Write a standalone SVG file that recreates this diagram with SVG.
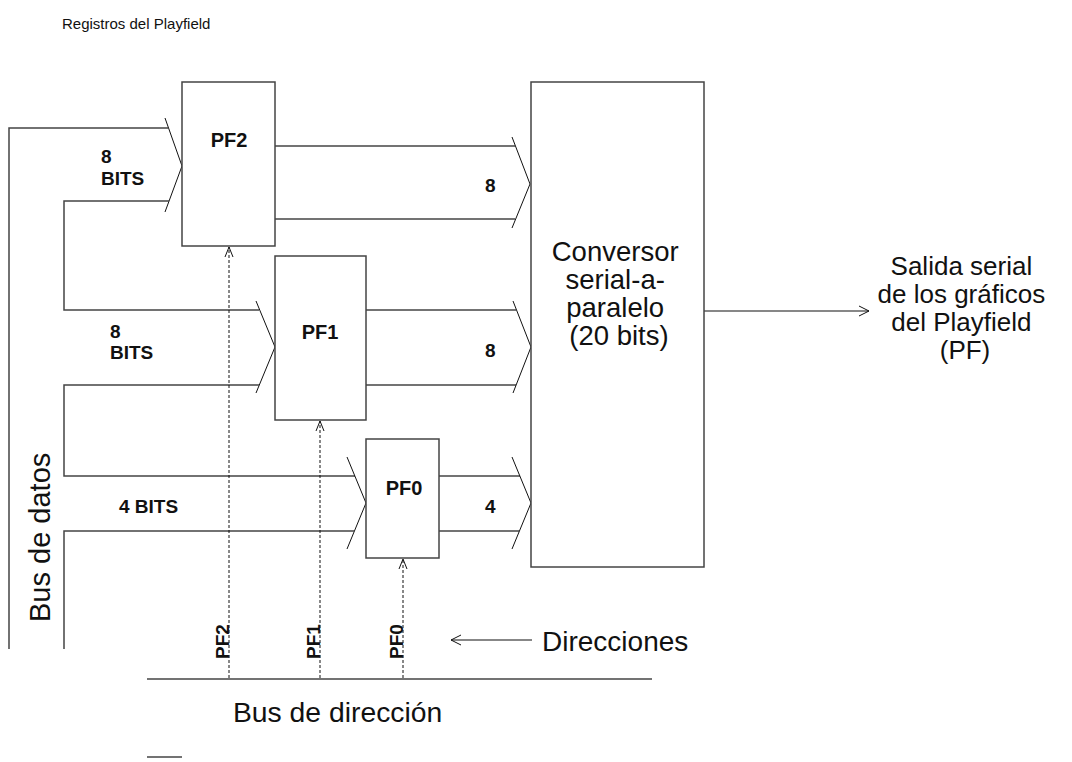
<svg xmlns="http://www.w3.org/2000/svg" width="1072" height="762" viewBox="0 0 1072 762">
<style>
  .box{fill:#fff;stroke:#444;stroke-width:1.5}
  .bus{fill:none;stroke:#444;stroke-width:1.5}
  .chev{fill:none;stroke:#111;stroke-width:1}
  .dash{fill:none;stroke:#111;stroke-width:1;stroke-dasharray:3 2}
  .thin{fill:none;stroke:#111;stroke-width:1.2}
  .lbl{font-family:"Liberation Sans",Arial,sans-serif;fill:#111}
  .b{font-family:"Liberation Sans",Arial,sans-serif;font-weight:bold;fill:#111}
</style>
<defs>
  <marker id="open" viewBox="0 0 12 12" refX="11" refY="6" markerWidth="12" markerHeight="12" markerUnits="userSpaceOnUse" orient="auto">
    <path d="M1,1 L11,6 L1,11" fill="none" stroke="#111" stroke-width="1"/>
  </marker>
  <marker id="openD" viewBox="0 0 12 10" refX="11" refY="5" markerWidth="12" markerHeight="10" markerUnits="userSpaceOnUse" orient="auto">
    <path d="M1,1 L11,5 L1,9" fill="none" stroke="#111" stroke-width="1"/>
  </marker>
</defs>
<rect width="1072" height="762" fill="#fff"/>
<text class="lbl" x="62" y="29" font-size="15">Registros del Playfield</text>

<g id="connectors">
  <polyline class="bus" points="9,649 9,128 168,128"/>
  <polyline class="chev" points="165,118 182,166 165,212"/>
  <polyline class="bus" points="169,201 64,201 64,310 259,310"/>
  <polyline class="chev" points="256,301 275,347 256,393"/>
  <polyline class="bus" points="259,385 64,385 64,476 355,476"/>
  <polyline class="chev" points="347,457 366,503 347,549"/>
  <polyline class="bus" points="354,531 64,531 64,649"/>

  <line class="bus" x1="275" y1="146" x2="515" y2="146"/>
  <line class="bus" x1="275" y1="219" x2="515" y2="219"/>
  <polyline class="chev" points="512,137 530,184 512,228"/>
  <line class="bus" x1="366" y1="310" x2="516" y2="310"/>
  <line class="bus" x1="366" y1="385" x2="516" y2="385"/>
  <polyline class="chev" points="513,301 531,347 513,393"/>
  <line class="bus" x1="439" y1="476" x2="520" y2="476"/>
  <line class="bus" x1="439" y1="531" x2="519" y2="531"/>
  <polyline class="chev" points="512,457 531,503 512,549"/>

  <line class="dash" x1="229" y1="678" x2="229" y2="247" marker-end="url(#openD)"/>
  <line class="dash" x1="320" y1="678" x2="320" y2="421" marker-end="url(#openD)"/>
  <line class="dash" x1="403" y1="678" x2="403" y2="559" marker-end="url(#openD)"/>

  <line class="bus" x1="147" y1="679" x2="652" y2="679" stroke-width="2"/>
  <line class="thin" x1="704" y1="311" x2="869" y2="311" marker-end="url(#open)"/>
  <line class="thin" x1="532" y1="640" x2="451" y2="640" marker-end="url(#open)"/>
  <line class="bus" x1="147" y1="757" x2="182" y2="757" stroke-width="2"/>
</g>

<g id="pf2">
  <rect class="box" x="182" y="82" width="93" height="164"/>
  <text class="b" x="229" y="147" font-size="20" text-anchor="middle">PF2</text>
</g>
<g id="pf1">
  <rect class="box" x="275" y="256" width="91" height="164"/>
  <text class="b" x="320" y="339" font-size="20" text-anchor="middle">PF1</text>
</g>
<g id="pf0">
  <rect class="box" x="366" y="439" width="73" height="119"/>
  <text class="b" x="404" y="495" font-size="20" text-anchor="middle">PF0</text>
</g>
<g id="conversor">
  <rect class="box" x="531" y="82" width="173" height="485"/>
  <text class="lbl" font-size="27.5" text-anchor="middle">
    <tspan x="619" y="261">Conversor</tspan>
    <tspan x="619" y="289">serial-a-</tspan>
    <tspan x="619" y="317">paralelo</tspan>
    <tspan x="619" y="345">(20 bits)</tspan>
  </text>
</g>
<g id="salida">
  <text class="lbl" font-size="26" text-anchor="middle">
    <tspan x="965" y="275">Salida serial</tspan>
    <tspan x="965" y="303">de los gráficos</tspan>
    <tspan x="965" y="331">del Playfield</tspan>
    <tspan x="965" y="359">(PF)</tspan>
  </text>
</g>

<g id="labels">
  <text class="b" x="101" y="163" font-size="19">8</text>
  <text class="b" x="101" y="185" font-size="19">BITS</text>
  <text class="b" x="110" y="338" font-size="19">8</text>
  <text class="b" x="110" y="359" font-size="19">BITS</text>
  <text class="b" x="119" y="513" font-size="19">4 BITS</text>
  <text class="b" x="485" y="192" font-size="19">8</text>
  <text class="b" x="485" y="357" font-size="19">8</text>
  <text class="b" x="485" y="513" font-size="19">4</text>
  <text class="b" font-size="19" transform="translate(229,659) rotate(-90)">PF2</text>
  <text class="b" font-size="19" transform="translate(320,659) rotate(-90)">PF1</text>
  <text class="b" font-size="19" transform="translate(403,659) rotate(-90)">PF0</text>
  <text class="lbl" x="542" y="651" font-size="28">Direcciones</text>
  <text class="lbl" x="233" y="722" font-size="28.3">Bus de dirección</text>
  <text class="lbl" font-size="29" transform="translate(50,622) rotate(-90)">Bus de datos</text>
</g>
</svg>
